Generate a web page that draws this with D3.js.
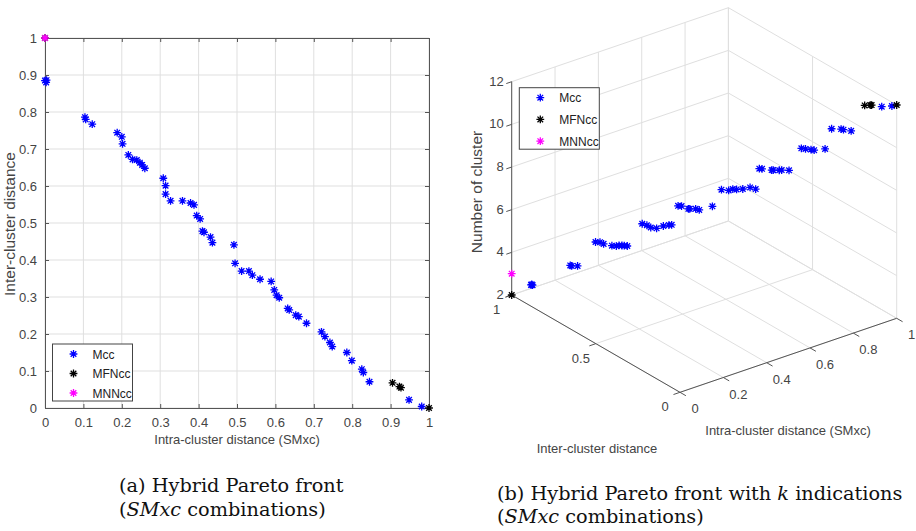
<!DOCTYPE html>
<html>
<head>
<meta charset="utf-8">
<title>Hybrid Pareto front</title>
<style>
  body { margin: 0; background: #fff; }
  svg { display: block; }
  .tick text, .lbl { font-family: "Liberation Sans", Arial, sans-serif; fill: #444; }
  .cap { font-family: "DejaVu Serif", "Liberation Serif", serif; fill: #111; }
</style>
</head>
<body>
<div id="chart"></div>
<script src="https://d3js.org/d3.v7.min.js"></script>
<script>
// --- data: (intra, inter, number of clusters) ---
var mccIntra = [0.000, 0.003, 0.004, 0.104, 0.106, 0.123, 0.188, 0.200, 0.202, 0.217, 0.228, 0.239, 0.247, 0.253, 0.260,
                0.308, 0.314, 0.314, 0.327, 0.358, 0.379, 0.388, 0.395, 0.404, 0.410, 0.414, 0.431, 0.436, 0.492,
                0.495, 0.512, 0.531, 0.540, 0.560, 0.589, 0.597, 0.603, 0.610, 0.632, 0.636, 0.653, 0.661, 0.681,
                0.720, 0.729, 0.742, 0.748, 0.786, 0.799, 0.825, 0.829, 0.845, 0.948, 0.981];
var mccInter = [0.885, 0.880, 0.886, 0.786, 0.780, 0.767, 0.744, 0.733, 0.714, 0.684, 0.672, 0.670, 0.663, 0.657, 0.648,
                0.621, 0.601, 0.578, 0.560, 0.560, 0.554, 0.549, 0.520, 0.511, 0.478, 0.475, 0.462, 0.447, 0.441,
                0.391, 0.370, 0.370, 0.359, 0.348, 0.342, 0.319, 0.305, 0.298, 0.269, 0.265, 0.251, 0.247, 0.229,
                0.206, 0.193, 0.177, 0.166, 0.150, 0.128, 0.105, 0.096, 0.071, 0.022, 0.004];
var mccK =     [3, 3, 3, 4, 4, 4, 5, 5, 5, 5, 5, 5, 5, 5, 5,
                6, 6, 6, 6, 6, 6, 6, 7, 7, 7, 7, 7, 7, 7,
                8, 8, 8, 8, 8, 8, 8, 9, 9, 9, 9, 9, 9, 9,
                10, 10, 10, 10, 10, 11, 11, 11, 11, 12, 12];

var mfnIntra = [0.000, 0.905, 0.923, 0.927, 1.000];
var mfnInter = [1.000, 0.068, 0.058, 0.055, 0.000];
var mfnK =     [2, 12, 12, 12, 12];

var mnnIntra = [0.000];
var mnnInter = [1.000];
var mnnK =     [3];

var seriesNames = ["Mcc", "MFNcc", "MNNcc"];
var seriesColors = ["#0000ff", "#000000", "#ff00ff"];
var xTicks2d = d3.range(0, 1.01, 0.1);
var yTicks2d = d3.range(0, 1.01, 0.1);
var intraTicks3d = [0, 0.2, 0.4, 0.6, 0.8, 1];
var interTicks3d = [0, 0.5, 1];
var kTicks3d = [2, 4, 6, 8, 10, 12];

function zip(a, b, k) { return a.map(function(v, i) { return {intra: v, inter: b[i], k: k[i]}; }); }
var series = [zip(mccIntra, mccInter, mccK), zip(mfnIntra, mfnInter, mfnK), zip(mnnIntra, mnnInter, mnnK)];

var W = 916, H = 531;
var svg = d3.select("#chart").append("svg").attr("width", W).attr("height", H);

// asterisk marker like matlab '*'
function star(r) {
  var d = r * 0.72;
  return "M" + (-r) + ",0L" + r + ",0M0," + (-r) + "L0," + r +
         "M" + (-d) + "," + (-d) + "L" + d + "," + d + "M" + (-d) + "," + d + "L" + d + "," + (-d);
}
var gridCol = "#dfdfdf", axisCol = "#555", tickFont = "13px", mR = 3.9, mW = 1.3;

// ================= (a) 2D plot =================
var x = d3.scaleLinear().domain([0, 1]).range([45, 429]);
var y = d3.scaleLinear().domain([0, 1]).range([408, 38]);
var ga = svg.append("g");

// grid
ga.selectAll(".gx").data(xTicks2d).enter().append("line")
  .attr("x1", d => x(d)).attr("x2", d => x(d)).attr("y1", y(0)).attr("y2", y(1))
  .attr("stroke", gridCol);
ga.selectAll(".gy").data(yTicks2d).enter().append("line")
  .attr("y1", d => y(d)).attr("y2", d => y(d)).attr("x1", x(0)).attr("x2", x(1))
  .attr("stroke", gridCol);

var fmt = d3.format("~g");
function styleAxis(g) {
  g.select(".domain").attr("stroke", axisCol);
  g.selectAll(".tick line").attr("stroke", axisCol);
  g.selectAll(".tick text").style("font-size", tickFont);
}
ga.append("g").attr("transform", "translate(0," + y(0) + ")")
  .call(d3.axisBottom(x).tickValues(xTicks2d).tickFormat(fmt).tickSizeInner(-4).tickSizeOuter(0).tickPadding(10))
  .call(styleAxis);
ga.append("g").attr("transform", "translate(" + x(0) + ",0)")
  .call(d3.axisLeft(y).tickValues(yTicks2d).tickFormat(fmt).tickSizeInner(-4).tickSizeOuter(0).tickPadding(8))
  .call(styleAxis);
ga.append("g").attr("transform", "translate(0," + y(1) + ")")
  .call(d3.axisTop(x).tickValues(xTicks2d).tickFormat("").tickSizeInner(-4).tickSizeOuter(0))
  .call(styleAxis);
ga.append("g").attr("transform", "translate(" + x(1) + ",0)")
  .call(d3.axisRight(y).tickValues(yTicks2d).tickFormat("").tickSizeInner(-4).tickSizeOuter(0))
  .call(styleAxis);

series.forEach(function(s, i) {
  ga.selectAll(".p" + i).data(s).enter().append("path")
    .attr("d", star(mR))
    .attr("transform", d => "translate(" + x(d.intra) + "," + y(d.inter) + ")")
    .attr("stroke", seriesColors[i]).attr("stroke-width", mW).attr("fill", "none");
});

ga.append("text").attr("class", "lbl").attr("x", 237).attr("y", 444)
  .attr("text-anchor", "middle").style("font-size", "13px").text("Intra-cluster distance (SMxc)");
ga.append("text").attr("class", "lbl").attr("transform", "translate(15,224) rotate(-90)")
  .attr("text-anchor", "middle").style("font-size", "15.5px").text("Inter-cluster distance");

function legend(g, x0, y0, w, h) {
  g.append("rect").attr("x", x0).attr("y", y0).attr("width", w).attr("height", h)
    .attr("fill", "#fff").attr("stroke", "#444");
  var step = (h - 18) / 2;
  seriesNames.forEach(function(n, i) {
    var yy = y0 + 10 + i * step;
    g.append("path").attr("d", star(mR)).attr("transform", "translate(" + (x0 + 21) + "," + yy + ")")
      .attr("stroke", seriesColors[i]).attr("stroke-width", mW).attr("fill", "none");
    g.append("text").attr("class", "lbl").attr("x", x0 + 40).attr("y", yy + 4.5)
      .style("font-size", "12px").style("fill", "#222").text(n);
  });
}
legend(ga, 52.5, 344, 80, 57);

// ================= (b) 3D plot =================
var sIntra = d3.scaleLinear().domain([0, 1]).range([0, 1]);
var sInter = d3.scaleLinear().domain([0, 1]).range([0, 1]);
var sK = d3.scaleLinear().domain([2, 12]).range([0, 213.3]);
var O = [680, 392.3], ex = [216.7, -74], ey = [-168.3, -97.3];
function proj(a, b, k) {
  var u = sIntra(a), v = sInter(b);
  return [O[0] + ex[0] * u + ey[0] * v, O[1] + ex[1] * u + ey[1] * v - sK(k)];
}
var gb = svg.append("g");
function seg(g, p, q, col, w) {
  g.append("line").attr("x1", p[0]).attr("y1", p[1]).attr("x2", q[0]).attr("y2", q[1])
    .attr("stroke", col).attr("stroke-width", w || 1);
}
// floor grid (k = 2)
intraTicks3d.forEach(a => seg(gb, proj(a, 0, 2), proj(a, 1, 2), gridCol));
interTicks3d.forEach(b => seg(gb, proj(0, b, 2), proj(1, b, 2), gridCol));
// back wall inter = 1
intraTicks3d.forEach(a => seg(gb, proj(a, 1, 2), proj(a, 1, 12), gridCol));
kTicks3d.forEach(k => seg(gb, proj(0, 1, k), proj(1, 1, k), gridCol));
// back wall intra = 1
interTicks3d.forEach(b => seg(gb, proj(1, b, 2), proj(1, b, 12), gridCol));
kTicks3d.forEach(k => seg(gb, proj(1, 0, k), proj(1, 1, k), gridCol));

// axes
seg(gb, proj(0, 0, 2), proj(1, 0, 2), axisCol);
seg(gb, proj(0, 0, 2), proj(0, 1, 2), axisCol);
seg(gb, proj(0, 1, 2), proj(0, 1, 12), axisCol);

var tf = d3.format("~g");
intraTicks3d.forEach(function(a) {
  var p = proj(a, 0, 2), q = proj(a, -0.035, 2);
  seg(gb, p, q, axisCol);
  gb.append("text").attr("class", "lbl").attr("x", p[0] + 15).attr("y", p[1] + 21)
    .attr("text-anchor", "middle").style("font-size", tickFont).text(tf(a));
});
interTicks3d.forEach(function(b) {
  var p = proj(0, b, 2), q = proj(-0.03, b, 2);
  seg(gb, p, q, axisCol);
  gb.append("text").attr("class", "lbl").attr("x", p[0] - 15).attr("y", p[1] + 19)
    .attr("text-anchor", "middle").style("font-size", tickFont).text(tf(b));
});
kTicks3d.forEach(function(k) {
  var p = proj(0, 1, k), q = proj(-0.025, 1, k);
  seg(gb, p, q, axisCol);
  gb.append("text").attr("class", "lbl").attr("x", p[0] - 8).attr("y", p[1] + 4)
    .attr("text-anchor", "end").style("font-size", tickFont).text(tf(k));
});

series.forEach(function(s, i) {
  gb.selectAll(".q" + i).data(s).enter().append("path")
    .attr("d", star(mR))
    .attr("transform", d => "translate(" + proj(d.intra, d.inter, d.k) + ")")
    .attr("stroke", seriesColors[i]).attr("stroke-width", mW).attr("fill", "none");
});

gb.append("text").attr("class", "lbl").attr("x", 788).attr("y", 435)
  .attr("text-anchor", "middle").style("font-size", "13px").text("Intra-cluster distance (SMxc)");
gb.append("text").attr("class", "lbl").attr("x", 597).attr("y", 453)
  .attr("text-anchor", "middle").style("font-size", "13px").text("Inter-cluster distance");
gb.append("text").attr("class", "lbl").attr("transform", "translate(482,192) rotate(-90)")
  .attr("text-anchor", "middle").style("font-size", "15.5px").text("Number of cluster");
legend(gb, 519.3, 87.7, 80, 61.5);

// ================= captions =================
function caption(x0, y0, line1, size) {
  var t = svg.append("text").attr("class", "cap").attr("x", x0).attr("y", y0).style("font-size", size);
  line1(t);
  var t2 = svg.append("text").attr("class", "cap").attr("x", x0).attr("y", y0 + 23.5).style("font-size", size);
  t2.append("tspan").text("(");
  t2.append("tspan").style("font-style", "italic").text("SMxc");
  t2.append("tspan").text(" combinations)");
}
caption(119, 492, function(t) { t.text("(a) Hybrid Pareto front"); }, "19.3px");
caption(497, 499.5, function(t) {
  t.append("tspan").text("(b) Hybrid Pareto front with ");
  t.append("tspan").style("font-style", "italic").text("k");
  t.append("tspan").text(" indications");
}, "19.3px");
</script>
</body>
</html>
